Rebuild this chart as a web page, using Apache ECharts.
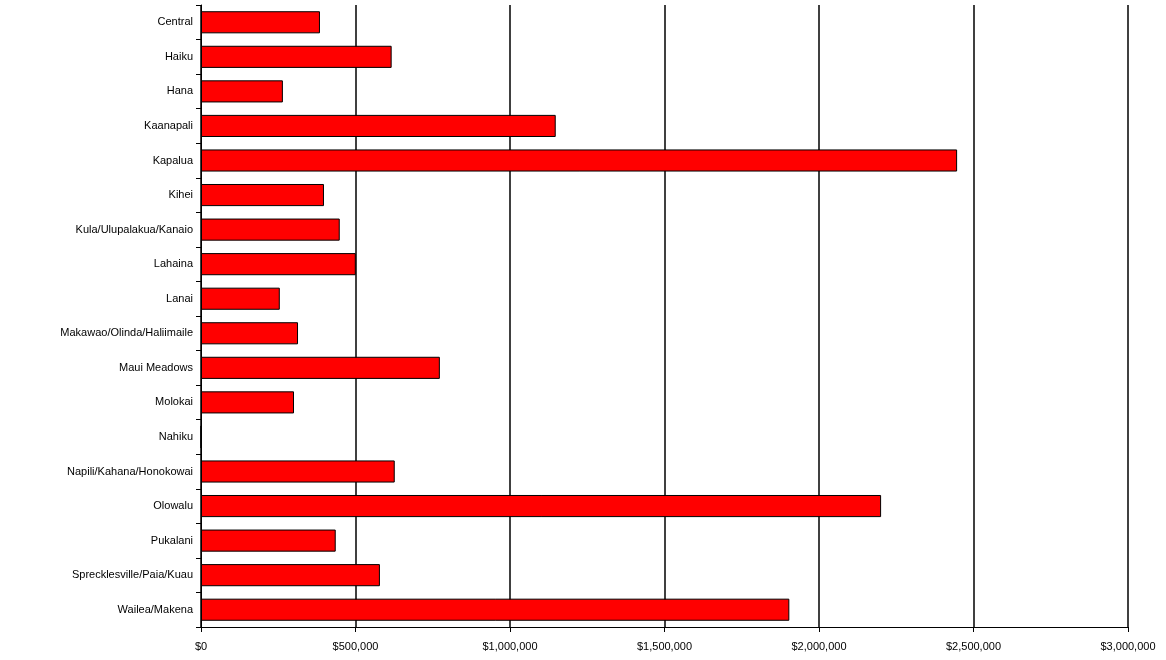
<!DOCTYPE html>
<html>
<head>
<meta charset="utf-8">
<script src="https://cdn.jsdelivr.net/npm/echarts@6/dist/echarts.min.js"></script>
<style>
html, body { margin: 0; padding: 0; background: #fff; }
#main { width: 1166px; height: 660px; }
</style>
</head>
<body>
<div id="main"></div>
<script>
var areas = ['Central', 'Haiku', 'Hana', 'Kaanapali', 'Kapalua', 'Kihei', 'Kula/Ulupalakua/Kanaio',
    'Lahaina', 'Lanai', 'Makawao/Olinda/Haliimaile', 'Maui Meadows', 'Molokai', 'Nahiku',
    'Napili/Kahana/Honokowai', 'Olowalu', 'Pukalani', 'Sprecklesville/Paia/Kuau', 'Wailea/Makena'];
var prices = [385000, 617000, 265000, 1148000, 2447000, 398000, 449000, 501000, 255000, 314000,
    773000, 301000, 0, 627000, 2201000, 436000, 579000, 1904000];

var fmt = v => '$' + v.toLocaleString('en-US');

var myChart = echarts.init(document.getElementById('main'), null, { renderer: 'canvas' });

var option = {
    animation: false,
    grid: { left: 201, right: 38, top: 5, bottom: 33 },
    xAxis: {
        type: 'value',
        min: 0,
        max: 3000000,
        interval: 500000,
        axisLine: { show: true, lineStyle: { color: '#000' } },
        axisTick: { show: true, length: 5, lineStyle: { color: '#000' } },
        axisLabel: { formatter: fmt, color: '#000', fontFamily: 'Arial, Liberation Sans', fontSize: 11, margin: 14 },
        splitLine: { show: true, lineStyle: { color: '#000', width: 1.5 } }
    },
    yAxis: {
        type: 'category',
        data: areas,
        inverse: true,
        axisLine: { show: true, lineStyle: { color: '#000' } },
        axisTick: { show: true, length: 5, lineStyle: { color: '#000' } },
        axisLabel: { color: '#000', fontFamily: 'Arial, Liberation Sans', fontSize: 11, margin: 8 },
        splitLine: { show: false }
    },
    series: [
        {
            type: 'bar',
            data: prices,
            barCategoryGap: '36%',
            itemStyle: { color: '#ff0000', borderColor: '#000', borderWidth: 1 }
        }
    ]
};

myChart.setOption(option);
</script>
</body>
</html>
